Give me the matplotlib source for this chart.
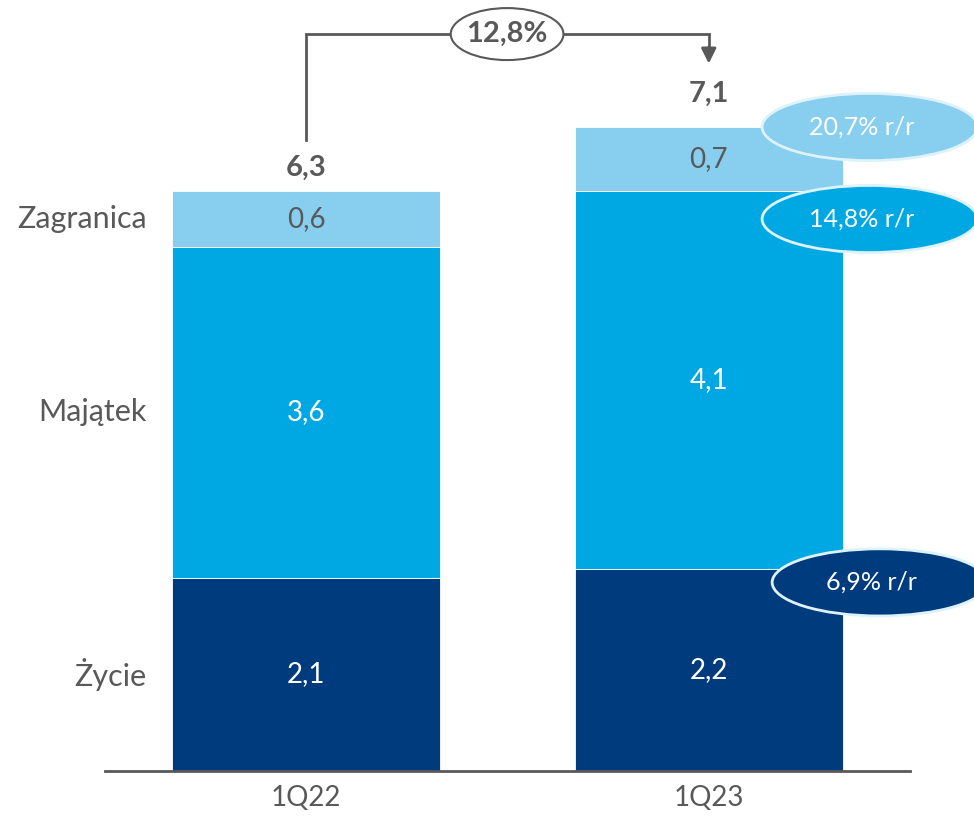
import matplotlib.pyplot as plt
from matplotlib.patches import Ellipse

plt.rcParams['font.family'] = ['Lato', 'DejaVu Sans']

# dane (mld zł)
periods = ["1Q22", "1Q23"]
segments = ["Życie", "Majątek", "Zagranica"]
zycie = [2.1, 2.2]
majatek = [3.6, 4.1]
zagranica = [0.6, 0.7]
totals = [6.3, 7.1]
total_change = "12,8%"
yoy_labels = ["6,9% r/r", "14,8% r/r", "20,7% r/r"]

c_dark = "#003B7E"
c_mid = "#00A8E3"
c_light = "#87CEEF"
c_text = "#595959"
c_edge = "#DDF2FB"

fig = plt.figure(figsize=(9.74, 8.19), dpi=100)
ax = fig.add_axes([105 / 974, 48 / 819, 805 / 974, 771 / 819])

x = [0, 1]
w = 0.665
series = [zycie, majatek, zagranica]
colors = [c_dark, c_mid, c_light]
txt_colors = ["white", "white", c_text]

bottom = [0.0, 0.0]
for vals, col, tc in zip(series, colors, txt_colors):
    ax.bar(x, vals, w, bottom=bottom, color=col, edgecolor="white", linewidth=0.6)
    for i, v in enumerate(vals):
        ax.text(x[i], bottom[i] + v / 2, f"{v:.1f}".replace(".", ","),
                ha="center", va="center", fontsize=20, color=tc)
    bottom = [b + v for b, v in zip(bottom, vals)]

# sumy nad słupkami
for i, t in enumerate(totals):
    ax.annotate(f"{t:.1f}".replace(".", ","), (x[i], t), xytext=(0, 17),
                textcoords="offset points", ha="center", va="center",
                fontsize=21, fontweight="bold", color=c_text)

# etykiety segmentów po lewej
b = 0.0
for name, vals in zip(segments, series):
    ax.annotate(name, (-0.5, b + vals[0] / 2), xytext=(30, 0),
                textcoords="offset points", ha="right", va="center",
                fontsize=22, color=c_text, annotation_clip=False)
    b += vals[0]

# strzałka zmiany
y_top = 8.01
ax.plot([0, 0, 1, 1], [totals[0] + 0.56, y_top, y_top, 7.85],
        color=c_text, lw=2, clip_on=False, solid_joinstyle="miter")
ax.annotate("", xy=(1, 7.66), xytext=(1, 7.9),
            arrowprops=dict(arrowstyle="-|>,head_width=0.45,head_length=0.9",
                            color=c_text, lw=2))
ax.add_patch(Ellipse((0.499, y_top), 0.28, 0.565, facecolor="white",
                     edgecolor=c_text, lw=1.5, zorder=5, clip_on=False))
ax.text(0.499, y_top, total_change, ha="center", va="center", fontsize=21,
        fontweight="bold", color=c_text, zorder=6)

# owale r/r
yoy_y = [2.05, 6.0, 7.0]
yoy_x = [1.425, 1.40, 1.40]
for lab, yy, xx, col in zip(yoy_labels, yoy_y, yoy_x, colors):
    ax.add_patch(Ellipse((xx, yy), 0.535, 0.73, facecolor=col, edgecolor=c_edge,
                         lw=2, zorder=5, clip_on=False))
    ax.text(xx - 0.02, yy, lab, ha="center", va="center", fontsize=18,
            color="white", zorder=6)

ax.set_xlim(-0.5, 1.5)
ax.set_ylim(0, 771 / 92)
ax.set_xticks(x)
ax.set_xticklabels(periods, fontsize=20, color=c_text)
ax.tick_params(axis="x", length=0, pad=10)
ax.set_yticks([])
for s in ["top", "right", "left"]:
    ax.spines[s].set_visible(False)
ax.spines["bottom"].set_color(c_text)
ax.spines["bottom"].set_linewidth(2)

fig.savefig("out.png", dpi=100)
